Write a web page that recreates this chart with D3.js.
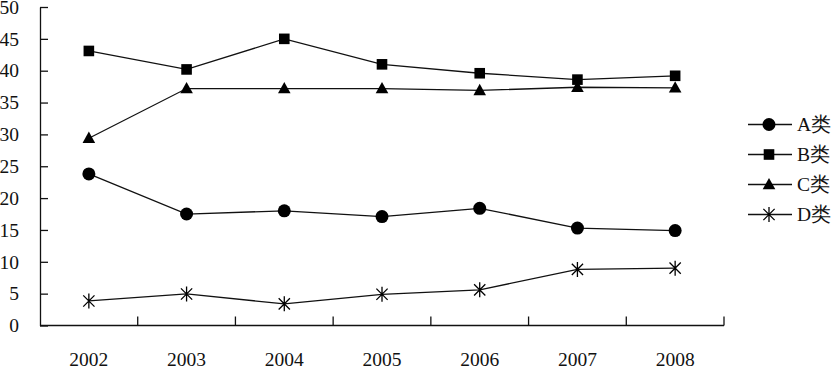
<!DOCTYPE html>
<html><head><meta charset="utf-8">
<script src="https://cdn.jsdelivr.net/npm/d3@7/dist/d3.min.js"></script>
<style>
html,body{margin:0;padding:0;background:#fff;}
svg{display:block;}
</style></head>
<body>
<svg id="chart" width="831" height="371" font-family="'Liberation Serif', serif"></svg>
<script>
const years = ["2002","2003","2004","2005","2006","2007","2008"];
const yTicks = [0,5,10,15,20,25,30,35,40,45,50];
const seriesNames = ["A类","B类","C类","D类"];
const seriesMarkers = ["circle","square","triangle","asterisk"];
const valuesA = [23.8,17.5,18.0,17.1,18.4,15.3,14.9];
const valuesB = [43.1,40.2,45.0,41.0,39.6,38.6,39.2];
const valuesC = [29.4,37.2,37.2,37.2,36.9,37.4,37.3];
const valuesD = [3.85,4.95,3.4,4.9,5.6,8.8,9.0];
const allValues = [valuesA,valuesB,valuesC,valuesD];

const svg = d3.select("#chart");
const mLeft = 40, mRight = 724, mTop = 7, mBottom = 325.5;
const x = d3.scaleBand().domain(years).range([mLeft,mRight]).padding(0);
const y = d3.scaleLinear().domain([0,50]).range([mBottom,mTop]);
const cx = d => x(d) + x.bandwidth()/2;
const stroke = "#111";
const serif = '"Liberation Serif"';

// Y axis
const yAxis = d3.axisLeft(y).tickValues(yTicks).tickSizeInner(-8).tickSizeOuter(0).tickPadding(21);
const gy = svg.append("g").attr("transform",`translate(${mLeft},0)`).call(yAxis);
gy.attr("font-family",serif);
gy.select(".domain").attr("stroke",stroke).attr("stroke-width",1.3);
gy.selectAll(".tick line").attr("stroke",stroke).attr("stroke-width",1.3);
gy.selectAll(".tick text").attr("font-size",19.5).attr("fill","#111").attr("font-family",serif);

// X axis (labels at band centers)
const xAxis = d3.axisBottom(x).tickSize(0).tickPadding(0);
const gx = svg.append("g").attr("transform",`translate(0,${mBottom})`).call(xAxis);
gx.attr("font-family",serif);
gx.select(".domain").remove();
gx.selectAll(".tick text").attr("font-size",19.5).attr("fill","#111").attr("y",40.5).attr("dy",0)
  .attr("font-family",serif);
svg.append("line").attr("x1",mLeft).attr("x2",mRight).attr("y1",mBottom).attr("y2",mBottom)
  .attr("stroke",stroke).attr("stroke-width",1.3);
// boundary ticks (pointing up)
const bounds = years.slice(1).map(d => x(d)).concat([mRight]);
svg.selectAll(".btick").data(bounds).enter().append("line")
  .attr("x1",d=>d).attr("x2",d=>d).attr("y1",mBottom).attr("y2",mBottom-9)
  .attr("stroke",stroke).attr("stroke-width",1.3);

// markers
function drawMarker(g, type, px, py) {
  if (type==="circle") {
    g.append("circle").attr("cx",px).attr("cy",py).attr("r",6.5).attr("fill","#000");
  } else if (type==="square") {
    g.append("rect").attr("x",px-5.3).attr("y",py-5.3).attr("width",10.6).attr("height",10.6).attr("fill","#000");
  } else if (type==="triangle") {
    const s = 6.3;
    g.append("path").attr("d",`M${px},${py-s*1.05}L${px+s},${py+s*0.75}L${px-s},${py+s*0.75}Z`).attr("fill","#000");
  } else {
    const r = 7.5, d = r*0.75;
    g.append("path").attr("d",`M${px-d},${py-d}L${px+d},${py+d}M${px+d},${py-d}L${px-d},${py+d}M${px},${py-r}L${px},${py+r}`)
      .attr("stroke","#000").attr("stroke-width",1.3).attr("fill","none");
  }
}

const line = d3.line().x((v,i)=>cx(years[i])).y(v=>y(v));
allValues.forEach((vals,si)=>{
  const g = svg.append("g");
  g.append("path").datum(vals).attr("d",line).attr("fill","none").attr("stroke",stroke).attr("stroke-width",1.3);
  vals.forEach((v,i)=>drawMarker(g, seriesMarkers[si], cx(years[i]), y(v)));
});

// legend
const legY = [124.5,154.5,184.5,214.5];
seriesNames.forEach((name,i)=>{
  const g = svg.append("g");
  g.append("line").attr("x1",748).attr("x2",792).attr("y1",legY[i]).attr("y2",legY[i])
    .attr("stroke",stroke).attr("stroke-width",1.3);
  drawMarker(g, seriesMarkers[i], 769, legY[i]);
  g.append("text").attr("x",797).attr("y",legY[i]).attr("dy","0.35em").attr("font-size",19.5)
    .attr("fill","#111").attr("font-family",serif).text(name);
});
</script>
</body></html>
